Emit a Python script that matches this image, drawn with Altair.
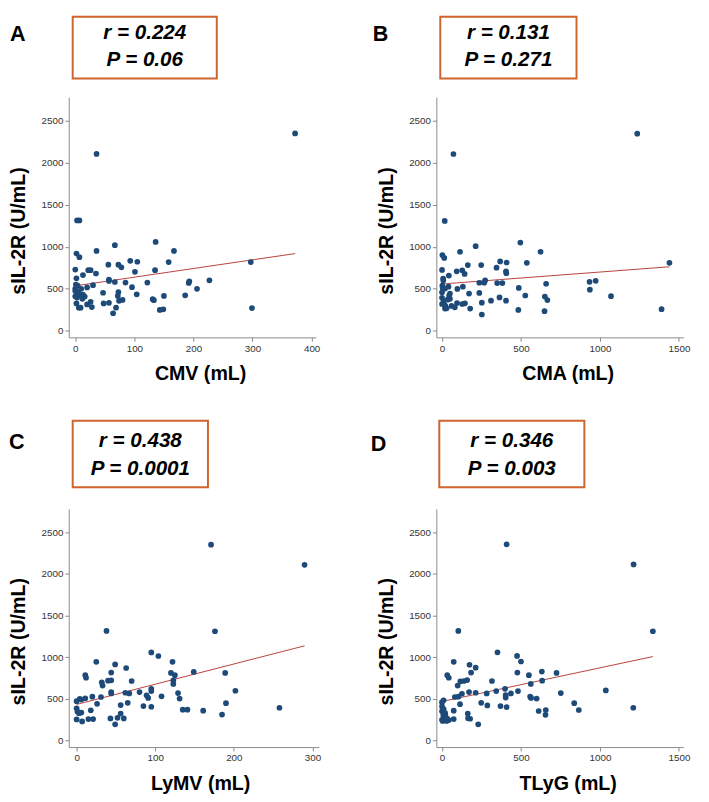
import altair as alt
import pandas as pd

# ---------------- data ----------------
a_x = [372, 36, 3, 7, 67, 136, 167, 36, 2, 7, 93, 105, 158, 297, 56, 73, 78, 0, 22, 26, 135, 101, 35, 13, 2,
       57, 57, 67, 85, 122, 227, 193, 192, 1, 4, 30, 20, 96, 206, 47, 73, 0, 7, 13, 16, 0, 3, 72, 104, 150,
       186, 131, 133, 74, 80, 26, 2, 20, 48, 57, 28, 6, 69, 299, 143, 149, 64, 9, 10, 5, 12, 0]
a_y = [2349, 2105, 1314, 1314, 1019, 1058, 950, 950, 919, 876, 833, 822, 818, 818, 787, 787, 756, 729, 721, 721,
       721, 702, 682, 663, 624, 608, 593, 581, 574, 574, 601, 589, 570, 550, 539, 543, 516, 519, 500, 453, 461,
       473, 422, 430, 407, 410, 395, 415, 434, 415, 422, 376, 364, 357, 368, 345, 326, 314, 326, 333, 283, 275,
       275, 271, 248, 256, 209, 275, 500, 460, 380, 500]

b_x = [1236, 72, 17, 496, 213, 624, 114, 2, 14, 368, 409, 537, 1440, 248, 163, 345, 0, 93, 128, 143, 405, 407,
       43, 7, 8, 273, 236, 267, 349, 382, 934, 973, 659, 2, 41, 97, 132, 486, 936, 4, 19, 0, 171, 236, 50, 45,
       527, 1070, 651, 364, 0, 50, 405, 667, 310, 252, 145, 128, 95, 0, 60, 81, 178, 19, 29, 483, 649, 1390,
       252, 10, 35, 20]
b_y = [2346, 2104, 1307, 1050, 1007, 941, 941, 902, 867, 825, 813, 809, 809, 782, 782, 751, 724, 708, 720, 677,
       708, 685, 657, 622, 599, 599, 572, 572, 568, 568, 583, 595, 560, 537, 525, 498, 525, 510, 490, 510, 502,
       459, 443, 451, 443, 420, 420, 412, 408, 397, 393, 381, 358, 366, 358, 335, 327, 319, 331, 319, 296, 280,
       265, 265, 268, 249, 233, 257, 194, 350, 370, 300]

c_x = [171, 290, 38, 176, 95, 104, 25, 122, 49, 63, 149, 120, 125, 189, 11, 12, 44, 70, 40, 44, 32, 33, 123,
       123, 95, 95, 44, 44, 202, 62, 67, 80, 129, 89, 108, 91, 131, 31, 20, 11, 4, 6, 0, 26, 190, 65, 56, 85,
       95, 135, 141, 161, 258, 18, 0, 1, 3, 6, 56, 185, 0, 7, 15, 21, 43, 52, 60, 49]
c_y = [2351, 2109, 1316, 1312, 1058, 1015, 945, 945, 914, 871, 824, 812, 785, 812, 785, 754, 816, 715, 719, 723,
       699, 660, 723, 680, 621, 594, 582, 566, 598, 574, 566, 582, 570, 543, 531, 512, 504, 523, 527, 508, 500,
       492, 473, 441, 449, 453, 426, 414, 406, 371, 371, 359, 394, 363, 387, 348, 328, 336, 324, 312, 254, 230,
       258, 258, 266, 273, 266, 195]

d_x = [409, 1213, 103, 1335, 351, 475, 500, 74, 174, 213, 184, 477, 632, 725, 33, 43, 550, 159, 116, 138, 316,
       634, 562, 99, 399, 343, 481, 1037, 752, 126, 213, 171, 283, 436, 403, 403, 558, 564, 599, 81, 103, 10,
       0, 114, 248, 287, 370, 409, 837, 1211, 866, 657, 655, 612, 74, 0, 0, 10, 19, 8, 21, 163, 165, 178, 0,
       31, 43, 74, 229, 4, 29]
d_y = [2355, 2113, 1316, 1312, 1059, 1016, 949, 945, 910, 875, 816, 816, 828, 812, 785, 754, 785, 726, 711, 715,
       715, 719, 680, 660, 621, 594, 594, 602, 570, 562, 574, 582, 566, 566, 547, 516, 527, 512, 504, 523, 527,
       484, 461, 437, 453, 422, 414, 402, 449, 394, 367, 367, 309, 355, 359, 410, 352, 379, 332, 301, 312, 324,
       269, 262, 250, 266, 246, 258, 195, 235, 235]

# fitted lines (end points)
fit_a_x, fit_a_y = [0, 372], [535, 919]
fit_b_x, fit_b_y = [0, 1440], [557, 762]
fit_c_x, fit_c_y = [0, 290], [434, 1137]
fit_d_x, fit_d_y = [0, 1335], [469, 1008]

letters = ["A", "B", "C", "D"]
r_texts = ["r = 0.224", "r = 0.131", "r = 0.438", "r = 0.346"]
p_texts = ["P = 0.06", "P = 0.271", "P = 0.0001", "P = 0.003"]
x_titles = ["CMV (mL)", "CMA (mL)", "LyMV (mL)", "TLyG (mL)"]
y_title = "sIL-2R (U/mL)"
x_ticks_small = [0, 100, 200, 300, 400]
x_ticks_large = [0, 500, 1000, 1500]
x_ticks_c = [0, 100, 200, 300]
y_ticks = [0, 500, 1000, 1500, 2000, 2500]

# ---------------- styling ----------------
PT = "#1d4a78"
LINE = "#b8403c"
BOX = "#d0642e"
FONT = "Liberation Sans"
one = pd.DataFrame({"k": [0]})


def panel(xs, ys, fx, fy, xdom, xticks, xtitle, letter, rt, pt, W, H, ydom,
          box, txt_y, letter_pos, bounds, ytitle_y):
    df = pd.DataFrame({"x": xs, "y": ys})
    fit = pd.DataFrame({"x": fx, "y": fy})
    common_axis = dict(domainColor="#8a8a8a", tickColor="#8a8a8a", tickSize=4, labelPadding=2,
                       labelFont=FONT, labelFontSize=10, labelColor="#333333", grid=False, format="d",
                       titleFont=FONT, titleFontSize=20, titleFontWeight="bold", titleColor="black")
    xs_ = alt.Scale(domain=xdom, nice=False, zero=False)
    ys_ = alt.Scale(domain=ydom, nice=False, zero=False)
    xa = alt.Axis(values=xticks, title=xtitle, titleX=134, titleY=37, titleAlign="center",
                  titleBaseline="middle", labelFlush=False, **common_axis)
    ya = alt.Axis(values=y_ticks, title=y_title, titleX=-51, titleY=ytitle_y, titleAlign="center",
                  titleBaseline="middle", titleAngle=270, labelFlush=False, **common_axis)

    bnd = alt.Chart(one).mark_rect(opacity=0).encode(
        x=alt.value(bounds[0]), x2=alt.value(bounds[1]), y=alt.value(bounds[2]), y2=alt.value(bounds[3]))
    pts = alt.Chart(df).mark_circle(size=34, color=PT, opacity=1).encode(
        x=alt.X("x:Q", scale=xs_, axis=xa), y=alt.Y("y:Q", scale=ys_, axis=ya))
    ln = alt.Chart(fit).mark_line(color=LINE, strokeWidth=1).encode(x="x:Q", y="y:Q")
    bx = alt.Chart(one).mark_rect(fill="white", fillOpacity=0, stroke=BOX, strokeWidth=2).encode(
        x=alt.value(box[0]), x2=alt.value(box[1]), y=alt.value(box[2]), y2=alt.value(box[3]))
    cx = (box[0] + box[1]) / 2
    t1 = alt.Chart(one).mark_text(font=FONT, fontSize=21, fontWeight="bold", fontStyle="italic",
                                  align="center", baseline="middle", color="black").encode(
        x=alt.value(cx), y=alt.value(txt_y[0]), text=alt.value(rt))
    t2 = alt.Chart(one).mark_text(font=FONT, fontSize=21, fontWeight="bold", fontStyle="italic",
                                  align="center", baseline="middle", color="black").encode(
        x=alt.value(cx), y=alt.value(txt_y[1]), text=alt.value(pt))
    lt = alt.Chart(one).mark_text(font=FONT, fontSize=22, fontWeight="bold",
                                  align="left", baseline="middle", color="black").encode(
        x=alt.value(letter_pos[0]), y=alt.value(letter_pos[1]), text=alt.value(letter))
    return alt.layer(bnd, ln, pts, bx, t1, t2, lt).properties(width=W, height=H)


YDOM = [-78, 2780]
pA = panel(a_x, a_y, fit_a_x, fit_a_y, [-11, 407], x_ticks_small, x_titles[0], letters[0],
           r_texts[0], p_texts[0], 252, 245, YDOM, (4, 151, -82, -19), (-65, -38), (-60, -64),
           (-62, 270, -83, 295), 136)
pB = panel(b_x, b_y, fit_b_x, fit_b_y, [-36, 1528], x_ticks_large, x_titles[1], letters[1],
           r_texts[1], p_texts[1], 252, 245, YDOM, (4, 143, -82, -19), (-65, -38), (-65, -64),
           (-68, 270, -83, 295), 136)
pC = panel(c_x, c_y, fit_c_x, fit_c_y, [-10, 308], x_ticks_c, x_titles[2], letters[2],
           r_texts[2], p_texts[2], 255, 243, YDOM, (4, 142, -90, -22), (-69, -41), (-61, -68),
           (-62, 273, -90, 284), 135)
pD = panel(d_x, d_y, fit_d_x, fit_d_y, [-36, 1528], x_ticks_large, x_titles[3], letters[3],
           r_texts[3], p_texts[3], 252, 243, YDOM, (3, 151, -90, -22), (-69, -41), (-67, -66),
           (-68, 270, -90, 284), 135)

chart = alt.vconcat(
    alt.hconcat(pA, pB, spacing=123, bounds="flush"),
    alt.hconcat(pC, pD, spacing=120, bounds="flush"),
    spacing=34,
).properties(padding=0).configure(background="white").configure_view(stroke=None)

chart.save("out.html", embed_options={"renderer": "svg", "actions": False})
